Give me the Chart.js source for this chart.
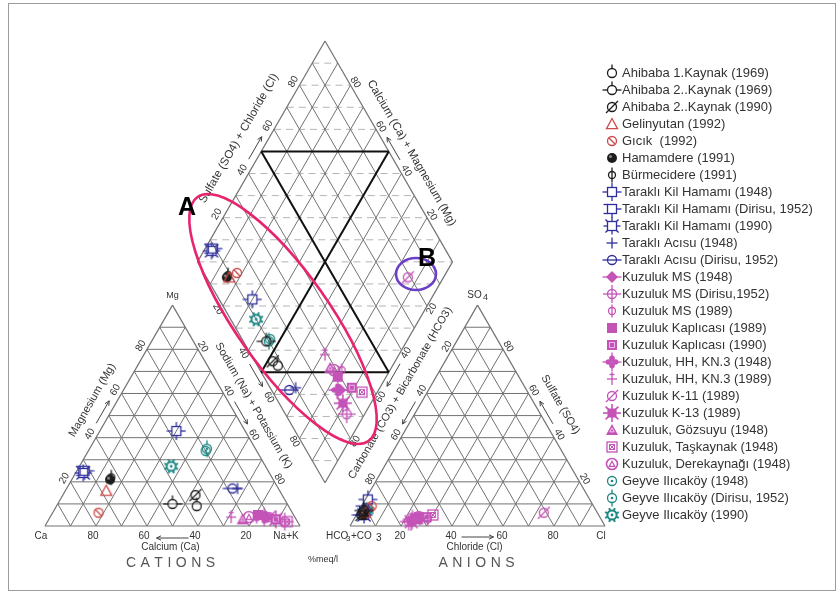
<!DOCTYPE html>
<html>
<head>
<meta charset="utf-8">
<script src="https://cdn.jsdelivr.net/npm/chart.js@4/dist/chart.umd.min.js"></script>
<style>
  html, body { margin: 0; padding: 0; background: #fff; }
  canvas { display: block; }
</style>
</head>
<body>
<canvas id="piper" width="839" height="594"></canvas>
<script>
// ---- Sample data (% meq/l) ----
const sampleNames = [
  'Ahibaba 1.Kaynak (1969)', 'Ahibaba 2..Kaynak (1969)', 'Ahibaba 2..Kaynak (1990)',
  'Gelinyutan (1992)', 'Gıcık  (1992)', 'Hamamdere (1991)', 'Bürmecidere (1991)',
  'Taraklı Kil Hamamı (1948)', 'Taraklı Kil Hamamı (Dirisu, 1952)', 'Taraklı Kil Hamamı (1990)',
  'Taraklı Acısu (1948)', 'Taraklı Acısu (Dirisu, 1952)',
  'Kuzuluk MS (1948)', 'Kuzuluk MS (Dirisu,1952)', 'Kuzuluk MS (1989)',
  'Kuzuluk Kaplıcası (1989)', 'Kuzuluk Kaplıcası (1990)',
  'Kuzuluk, HH, KN.3 (1948)', 'Kuzuluk, HH, KN.3 (1989)',
  'Kuzuluk K-11 (1989)', 'Kuzuluk K-13 (1989)',
  'Kuzuluk, Gözsuyu (1948)', 'Kuzuluk, Taşkaynak (1948)', 'Kuzuluk, Derekaynağı (1948)',
  'Geyve Ilıcaköy (1948)', 'Geyve Ilıcaköy (Dirisu, 1952)', 'Geyve Ilıcaköy (1990)'
];
// cations
const caPct  = [36, 45, 34, 68, 76, 64, 63, 27, 72, 73, 16, 18, 11, 5, 15, 14, 8, 12, 25, 10, 8, 21, 4, 18, 20, 19, 37];
const mgPct  = [ 9, 10, 14, 16,  6, 21, 22, 43, 25, 24, 17, 17,  4, 2,  4,  5, 3,  4,  4,  4, 3,  3, 2,  4, 34, 35, 27];
const naKPct = [55, 45, 52, 16, 18, 15, 15, 30,  3,  3, 67, 65, 85, 93, 81, 81, 89, 84, 71, 86, 89, 76, 94, 78, 46, 46, 36];
// anions
const hco3Pct = [92, 91, 93, 91, 87, 92, 91, 87, 91, 92, 90, 93, 73, 76, 68, 71, 68, 74, 71, 21, 75, 72, 65, 71, 89, 90, 90];
const so4Pct  = [ 6,  7,  5,  6,  9,  5,  6, 12,  7,  5,  7,  5,  3,  2,  3,  4,  4,  3,  3,  6,  2,  3,  5,  4,  8,  7,  7];
const clPct   = [ 2,  2,  2,  3,  4,  3,  3,  1,  2,  3,  3,  2, 24, 22, 29, 25, 28, 23, 26, 73, 23, 25, 30, 25,  3,  3,  3];
// scale ticks on every ternary side
const tickValues = [20, 40, 60, 80];

// ---- Marker styles ----
const BLACK = '#1c1c1c', RED = '#cc4a4a', BLUE = '#2d2d9c', MAGENTA = '#c453b8', TEAL = '#1d8784';
const symbolKinds = [
  'circleStem', 'circleBar', 'circleSlash', 'triangle', 'circleBackslash', 'dotFilled', 'circleVert',
  'squareCross', 'squareHash', 'squareSpiky', 'plus', 'circleHBar',
  'diamondFilled', 'circleCross', 'circleVertSmall', 'squareFilled', 'squareInner', 'flower', 'plusBar',
  'circleSlash', 'starFilled', 'triangleFilled', 'squarePattern', 'circleTriangle',
  'circleDot', 'circleDotStems', 'gear'
];
const symbolColors = [
  BLACK, BLACK, BLACK, RED, RED, BLACK, BLACK,
  BLUE, BLUE, BLUE, BLUE, BLUE,
  MAGENTA, MAGENTA, MAGENTA, MAGENTA, MAGENTA, MAGENTA, MAGENTA, MAGENTA, MAGENTA, MAGENTA, MAGENTA, MAGENTA,
  TEAL, TEAL, TEAL
];

function makeSymbol(kind, color) {
  const cv = document.createElement('canvas');
  cv.width = 20; cv.height = 20;
  const g = cv.getContext('2d');
  g.translate(10, 10);
  g.strokeStyle = color; g.fillStyle = color; g.lineWidth = 1.3;
  const ring = (r, x = 0, y = 0) => { g.beginPath(); g.arc(x, y, r, 0, 2 * Math.PI); g.stroke(); };
  const disc = (r, x = 0, y = 0, c = color) => { g.fillStyle = c; g.beginPath(); g.arc(x, y, r, 0, 2 * Math.PI); g.fill(); g.fillStyle = color; };
  const seg = (x1, y1, x2, y2) => { g.beginPath(); g.moveTo(x1, y1); g.lineTo(x2, y2); g.stroke(); };
  const spikes = (r1, r2, n, off) => {
    for (let k = 0; k < n; k++) {
      const t = off + k * 2 * Math.PI / n;
      seg(r1 * Math.cos(t), r1 * Math.sin(t), r2 * Math.cos(t), r2 * Math.sin(t));
    }
  };
  const tri = (s, fill) => {
    g.beginPath(); g.moveTo(0, -s); g.lineTo(s, s * 0.85); g.lineTo(-s, s * 0.85); g.closePath();
    if (fill) g.fill(); else g.stroke();
  };
  switch (kind) {
    case 'circleStem': ring(4.5); seg(0, -4.5, 0, -8.5); break;
    case 'circleBar': ring(4.5); seg(-9.5, 0, -4.5, 0); seg(4.5, 0, 9.5, 0); seg(0, -4.5, 0, -8.5); break;
    case 'circleSlash': ring(4.5); seg(-6, 6, 6, -6); break;
    case 'triangle': tri(5.5, false); break;
    case 'circleBackslash': ring(4.5); seg(-3.2, -3.2, 3.2, 3.2); break;
    case 'dotFilled': disc(5); disc(1.5, -1.5, -1.5, '#8a8a8a'); break;
    case 'circleVert': ring(3.5); seg(0, -7.5, 0, 7.5); break;
    case 'squareCross':
      g.strokeRect(-4.5, -4.5, 9, 9);
      seg(-9.5, 0, -4.5, 0); seg(4.5, 0, 9.5, 0); seg(0, -9, 0, -4.5); seg(0, 4.5, 0, 9); break;
    case 'squareHash':
      g.strokeRect(-4.5, -4.5, 9, 9);
      seg(-8.5, -4.5, -4.5, -4.5); seg(-8.5, 4.5, -4.5, 4.5); seg(4.5, 0, 9.5, 0); seg(0, 4.5, 0, 9); break;
    case 'squareSpiky':
      g.strokeRect(-4.5, -4.5, 9, 9);
      spikes(6.4, 9.3, 4, Math.PI / 4);
      seg(0, -4.5, 0, -8.5); seg(0, 4.5, 0, 8.5); seg(-4.5, 0, -8.5, 0); seg(4.5, 0, 8.5, 0); break;
    case 'plus': seg(-5.5, 0, 5.5, 0); seg(0, -5.5, 0, 5.5); break;
    case 'circleHBar': ring(4.5); seg(-9.5, 0, 9.5, 0); break;
    case 'diamondFilled':
      g.beginPath(); g.moveTo(0, -6); g.lineTo(6, 0); g.lineTo(0, 6); g.lineTo(-6, 0); g.closePath(); g.fill();
      seg(-9.5, 0, 9.5, 0); break;
    case 'circleCross': ring(4.5); seg(-9, 0, 9, 0); seg(0, -9, 0, 9); break;
    case 'circleVertSmall': ring(3.5); seg(0, -6.5, 0, 6.5); break;
    case 'squareFilled': g.fillRect(-5, -5, 10, 10); break;
    case 'squareInner':
      g.fillRect(-5, -5, 10, 10); g.strokeStyle = '#e9b7e3'; g.lineWidth = 1; g.strokeRect(-2.5, -2.5, 5, 5); break;
    case 'flower':
      disc(2.8, 3.6, 0); disc(2.8, -3.6, 0); disc(2.8, 0, 3.6); disc(2.8, 0, -3.6);
      seg(-9.5, 0, 9.5, 0); seg(0, -9.5, 0, 9.5); break;
    case 'plusBar': seg(-5, 0, 5, 0); seg(0, -7, 0, 6); seg(-2.5, -4.5, 2.5, -4.5); break;
    case 'starFilled':
      g.fillRect(-4.5, -4.5, 9, 9); g.lineWidth = 1.6; spikes(4, 9, 8, 0); break;
    case 'triangleFilled':
      tri(6, true); g.strokeStyle = '#f1c6ec'; g.lineWidth = 1; tri(2.2, false); break;
    case 'squarePattern':
      g.strokeRect(-5, -5, 10, 10); g.lineWidth = 1; g.strokeRect(-2.5, -2.5, 5, 5);
      seg(-2.5, -2.5, 2.5, 2.5); seg(-2.5, 2.5, 2.5, -2.5); break;
    case 'circleTriangle': g.lineWidth = 1.6; ring(5.5); g.lineWidth = 1.2; tri(2.8, false); break;
    case 'circleDot': ring(4.5); disc(1.3); break;
    case 'circleDotStems': ring(4.5); disc(1.3); seg(0, -8.5, 0, -4.5); seg(0, 4.5, 0, 8.5); break;
    case 'gear': g.lineWidth = 2; ring(4.6); spikes(5, 7.4, 8, Math.PI / 8); disc(1.4); break;
  }
  return cv;
}
const symbols = symbolKinds.map((k, i) => makeSymbol(k, symbolColors[i]));

// ---- Piper geometry (drawing units = canvas pixels) ----
const P = (x, y) => ({ x, y });
const lerp = (a, b, t) => P(a.x + (b.x - a.x) * t, a.y + (b.y - a.y) * t);
const SQ3 = Math.sqrt(3);
const SIDE = 255, TRI_H = SIDE * SQ3 / 2, BASE_Y = 526, GAP = 50, LEFT_X = 45;
const CAT_CA = P(LEFT_X, BASE_Y), CAT_NAK = P(LEFT_X + SIDE, BASE_Y), CAT_MG = P(LEFT_X + SIDE / 2, BASE_Y - TRI_H);
const AN_HCO3 = P(CAT_NAK.x + GAP, BASE_Y), AN_CL = P(CAT_NAK.x + GAP + SIDE, BASE_Y), AN_SO4 = P(AN_HCO3.x + SIDE / 2, BASE_Y - TRI_H);
const D_BOTTOM = P(CAT_NAK.x + GAP / 2, BASE_Y - GAP / 2 * SQ3);
const D_LEFT = P(D_BOTTOM.x - SIDE / 2, D_BOTTOM.y - TRI_H);
const D_RIGHT = P(D_BOTTOM.x + SIDE / 2, D_BOTTOM.y - TRI_H);
const D_TOP = P(D_BOTTOM.x, D_BOTTOM.y - 2 * TRI_H);

function bary(A, B, C, wa, wb, wc) {
  const s = wa + wb + wc;
  return P((A.x * wa + B.x * wb + C.x * wc) / s, (A.y * wa + B.y * wb + C.y * wc) / s);
}
function diamondAt(a, b) {
  return P(D_BOTTOM.x + a * (D_LEFT.x - D_BOTTOM.x) + b * (D_RIGHT.x - D_BOTTOM.x),
           D_BOTTOM.y + a * (D_LEFT.y - D_BOTTOM.y) + b * (D_RIGHT.y - D_BOTTOM.y));
}
function samplePoints(i) {
  const cat = bary(CAT_CA, CAT_MG, CAT_NAK, caPct[i], mgPct[i], naKPct[i]);
  const an = bary(AN_HCO3, AN_SO4, AN_CL, hco3Pct[i], so4Pct[i], clPct[i]);
  const a = (caPct[i] + mgPct[i]) / (caPct[i] + mgPct[i] + naKPct[i]);
  const b = (so4Pct[i] + clPct[i]) / (hco3Pct[i] + so4Pct[i] + clPct[i]);
  return [cat, an, diamondAt(a, b)];
}

const FONT = '"Liberation Sans", Arial, sans-serif';
const TXT = '#333';
const GRID = '#727272';
const c30 = Math.cos(Math.PI / 6);

// labelled sides: S = 0 %, E = 100 %, n = outward normal, rot = text angle
const sideAxes = [
  { S: CAT_CA, E: CAT_MG, n: [-c30, -0.5], rot: -60, tk: 7, title: 'Magnesium (Mg)', tOff: 22, tAt: 0.52, size: 11 },
  { S: CAT_MG, E: CAT_NAK, n: [c30, -0.5], rot: 60, tk: 5.5, title: 'Sodium (Na) + Potassium (K)', tOff: 20, tAt: 0.5, size: 11 },
  { S: AN_SO4, E: AN_HCO3, n: [-c30, -0.5], rot: -60, tk: 5.5, title: 'Carbonate (CO3) + Bicarbonate (HCO3)', tOff: 23, tAt: 0.45, size: 11 },
  { S: AN_CL, E: AN_SO4, n: [c30, -0.5], rot: 60, tk: 6, title: 'Sulfate (SO4)', tOff: 22, tAt: 0.5, size: 11 },
  { S: D_LEFT, E: D_TOP, n: [-c30, -0.5], rot: -60, tk: 7, title: 'Sulfate (SO4) + Chloride (Cl)', tOff: 26, tAt: 0.5, size: 11.5 },
  { S: D_RIGHT, E: D_TOP, n: [c30, -0.5], rot: 60, tk: 5.5, title: 'Calcium (Ca) + Magnesium (Mg)', tOff: 19, tAt: 0.45, size: 11.5 },
  { S: D_LEFT, E: D_BOTTOM, n: [-c30, 0.5], rot: 60, tk: 6, title: null },
  { S: D_RIGHT, E: D_BOTTOM, n: [c30, 0.5], rot: -60, tk: 5.5, title: null }
];

const piperPlugin = {
  id: 'piperFrame',
  beforeDatasetsDraw(chart) {
    const ctx = chart.ctx, sx = chart.scales.x, sy = chart.scales.y;
    const X = p => sx.getPixelForValue(p.x), Y = p => sy.getPixelForValue(p.y);
    const seg = (p, q, color, w, dash) => {
      ctx.save(); ctx.strokeStyle = color; ctx.lineWidth = w; ctx.setLineDash(dash || []);
      ctx.beginPath(); ctx.moveTo(X(p), Y(p)); ctx.lineTo(X(q), Y(q)); ctx.stroke(); ctx.restore();
    };
    const text = (s, p, rot, size, opt = {}) => {
      ctx.save();
      ctx.translate(X(p), Y(p)); ctx.rotate((rot || 0) * Math.PI / 180);
      ctx.font = (opt.weight || '') + ' ' + size + 'px ' + FONT;
      ctx.fillStyle = opt.color || TXT; ctx.textAlign = opt.align || 'center'; ctx.textBaseline = 'middle';
      ctx.fillText(s, 0, 0); ctx.restore();
    };
    const arrow = (c, dir, len) => {
      const a = P(c.x - dir[0] * len / 2, c.y - dir[1] * len / 2), b = P(c.x + dir[0] * len / 2, c.y + dir[1] * len / 2);
      seg(a, b, '#444', 1);
      const ang = Math.atan2(dir[1], dir[0]);
      [0.45, -0.45].forEach(d => {
        seg(b, P(b.x - 5 * Math.cos(ang + d), b.y - 5 * Math.sin(ang + d)), '#444', 1);
      });
    };
    const spaced = (s, p, size, spacing, color) => {
      ctx.save(); ctx.font = size + 'px ' + FONT; ctx.fillStyle = color; ctx.textBaseline = 'middle';
      const widths = [...s].map(ch => ctx.measureText(ch).width);
      const total = widths.reduce((u, v) => u + v, 0) + spacing * (s.length - 1);
      let x = X(p) - total / 2;
      [...s].forEach((ch, k) => { ctx.fillText(ch, x, Y(p)); x += widths[k] + spacing; });
      ctx.restore();
    };

    // triangle grids
    [[CAT_CA, CAT_NAK, CAT_MG], [AN_HCO3, AN_CL, AN_SO4]].forEach(([A, B, C]) => {
      for (let k = 1; k < 10; k++) {
        const t = k / 10;
        seg(lerp(A, C, t), lerp(B, C, t), GRID, 1);
        seg(lerp(A, B, t), lerp(B, C, 1 - t), GRID, 1);
        seg(lerp(A, B, t), lerp(A, C, t), GRID, 1);
      }
      seg(A, B, GRID, 1.2); seg(B, C, GRID, 1.2); seg(C, A, GRID, 1.2);
    });

    // diamond: dashed levels, grid, outline
    const halfH = TRI_H;
    for (let k = 1; k < 20; k++) {
      const y = D_TOP.y + k * halfH / 10;
      const w = (SIDE / 2) * (1 - Math.abs(y - D_LEFT.y) / halfH);
      seg(P(D_TOP.x - w, y), P(D_TOP.x + w, y), '#b4b4b4', 1, [7, 5]);
    }
    for (let k = 1; k < 10; k++) {
      const t = k / 10;
      seg(diamondAt(t, 0), diamondAt(t, 1), GRID, 1);
      seg(diamondAt(0, t), diamondAt(1, t), GRID, 1);
    }
    seg(D_BOTTOM, D_LEFT, GRID, 1.2); seg(D_LEFT, D_TOP, GRID, 1.2);
    seg(D_TOP, D_RIGHT, GRID, 1.2); seg(D_RIGHT, D_BOTTOM, GRID, 1.2);
    // central hydrochemical facies lines
    seg(diamondAt(0.5, 0), diamondAt(0.5, 1), '#111', 2);
    seg(diamondAt(0, 0.5), diamondAt(1, 0.5), '#111', 2);
    seg(diamondAt(1, 0.5), diamondAt(0.5, 1), '#111', 2);
    seg(diamondAt(0.5, 0), diamondAt(0, 0.5), '#111', 2);

    // side ticks, arrows and titles
    sideAxes.forEach(ax => {
      const dx = ax.E.x - ax.S.x, dy = ax.E.y - ax.S.y, L = Math.hypot(dx, dy);
      const dir = [dx / L, dy / L];
      const off = (t, d) => { const q = lerp(ax.S, ax.E, t); return P(q.x + ax.n[0] * d, q.y + ax.n[1] * d); };
      tickValues.forEach(v => text(String(v), off(v / 100, ax.tk), ax.rot, 10));
      arrow(off(0.5, ax.tk), dir, 26);
      if (ax.title) text(ax.title, off(ax.tAt, ax.tOff), ax.rot, ax.size);
    });

    // base ticks
    tickValues.forEach(v => {
      const pc = lerp(CAT_NAK, CAT_CA, v / 100);
      text(String(v), P(pc.x - 3, BASE_Y + 10), 0, 10);
      const pa = lerp(AN_HCO3, AN_CL, v / 100);
      text(String(v), P(pa.x - 1, BASE_Y + 10), 0, 10);
    });
    arrow(P((CAT_CA.x + CAT_NAK.x) / 2, BASE_Y + 12), [-1, 0], 32);
    arrow(P((AN_HCO3.x + AN_CL.x) / 2, BASE_Y + 11), [1, 0], 32);

    // vertex names
    text('Ca', P(CAT_CA.x - 4, BASE_Y + 10), 0, 10);
    text('Na+K', P(CAT_NAK.x - 14, BASE_Y + 10), 0, 10);
    text('Mg', P(CAT_MG.x, CAT_MG.y - 10), 0, 9);
    text('Cl', P(AN_CL.x - 4, BASE_Y + 10), 0, 10);
    text('SO', P(AN_SO4.x - 3, AN_SO4.y - 10), 0, 10);
    text('4', P(AN_SO4.x + 8, AN_SO4.y - 8), 0, 9);
    const hx = AN_HCO3.x - 24;
    text('HCO', P(hx, BASE_Y + 10), 0, 10, { align: 'left' });
    text('3', P(hx + 20, BASE_Y + 13), 0, 8, { align: 'left' });
    text('+CO', P(hx + 25, BASE_Y + 10), 0, 10, { align: 'left' });
    text('3', P(AN_HCO3.x + 26, BASE_Y + 12), 0, 10, { align: 'left' });

    // base titles
    text('Calcium (Ca)', P((CAT_CA.x + CAT_NAK.x) / 2 - 2, BASE_Y + 21), 0, 10);
    text('Chloride (Cl)', P((AN_HCO3.x + AN_CL.x) / 2 - 3, BASE_Y + 21), 0, 10);
    spaced('CATIONS', P((CAT_CA.x + CAT_NAK.x) / 2 - 2, BASE_Y + 37), 14, 4.5, '#555');
    spaced('ANIONS', P((AN_HCO3.x + AN_CL.x) / 2 - 1, BASE_Y + 37), 14, 4.5, '#555');
    text('%meq/l', P(D_BOTTOM.x - 2, BASE_Y + 34), 0, 9);
  },
  afterDatasetsDraw(chart) {
    const ctx = chart.ctx, sx = chart.scales.x, sy = chart.scales.y;
    const X = v => sx.getPixelForValue(v), Y = v => sy.getPixelForValue(v);
    const k = (X(100) - X(0)) / 100;
    ctx.save();
    ctx.lineWidth = 2.6;
    ctx.strokeStyle = '#e8246f';
    ctx.beginPath(); ctx.ellipse(X(283), Y(319), 149 * k, 47 * k, 55 * Math.PI / 180, 0, 2 * Math.PI); ctx.stroke();
    ctx.strokeStyle = '#6b3fc6';
    ctx.beginPath(); ctx.ellipse(X(416), Y(274), 20 * k, 16 * k, 0, 0, 2 * Math.PI); ctx.stroke();
    ctx.fillStyle = '#000'; ctx.font = 'bold 25px ' + FONT; ctx.textAlign = 'center'; ctx.textBaseline = 'middle';
    ctx.fillText('A', X(187), Y(208));
    ctx.fillText('B', X(427), Y(259));
    ctx.restore();
  },
  afterDraw(chart) {
    const ctx = chart.ctx, sx = chart.scales.x, sy = chart.scales.y;
    const X = v => sx.getPixelForValue(v), Y = v => sy.getPixelForValue(v);
    ctx.save();
    ctx.font = '13px ' + FONT; ctx.fillStyle = TXT; ctx.textBaseline = 'middle'; ctx.textAlign = 'left';
    sampleNames.forEach((name, i) => {
      const y = 73 + i * 17;
      const img = symbols[i];
      ctx.drawImage(img, X(612) - img.width / 2, Y(y) - img.height / 2);
      ctx.fillText(name, X(622), Y(y));
    });
    ctx.strokeStyle = '#9c9c9c'; ctx.lineWidth = 1;
    ctx.strokeRect(X(8.5), Y(3.5), X(835.5) - X(8.5), Y(590.5) - Y(3.5));
    ctx.restore();
  }
};

const datasets = sampleNames.map((name, i) => ({
  label: name,
  data: samplePoints(i),
  pointStyle: symbols[i],
  pointRadius: 6,
  showLine: false
}));

new Chart(document.getElementById('piper'), {
  type: 'scatter',
  data: { datasets },
  options: {
    responsive: false,
    animation: false,
    devicePixelRatio: 1,
    events: [],
    layout: { padding: 0, autoPadding: false },
    plugins: { legend: { display: false }, tooltip: { enabled: false } },
    scales: {
      x: { type: 'linear', min: 0, max: 839, display: false },
      y: { type: 'linear', min: 0, max: 594, reverse: true, display: false }
    }
  },
  plugins: [piperPlugin]
});
</script>
</body>
</html>
